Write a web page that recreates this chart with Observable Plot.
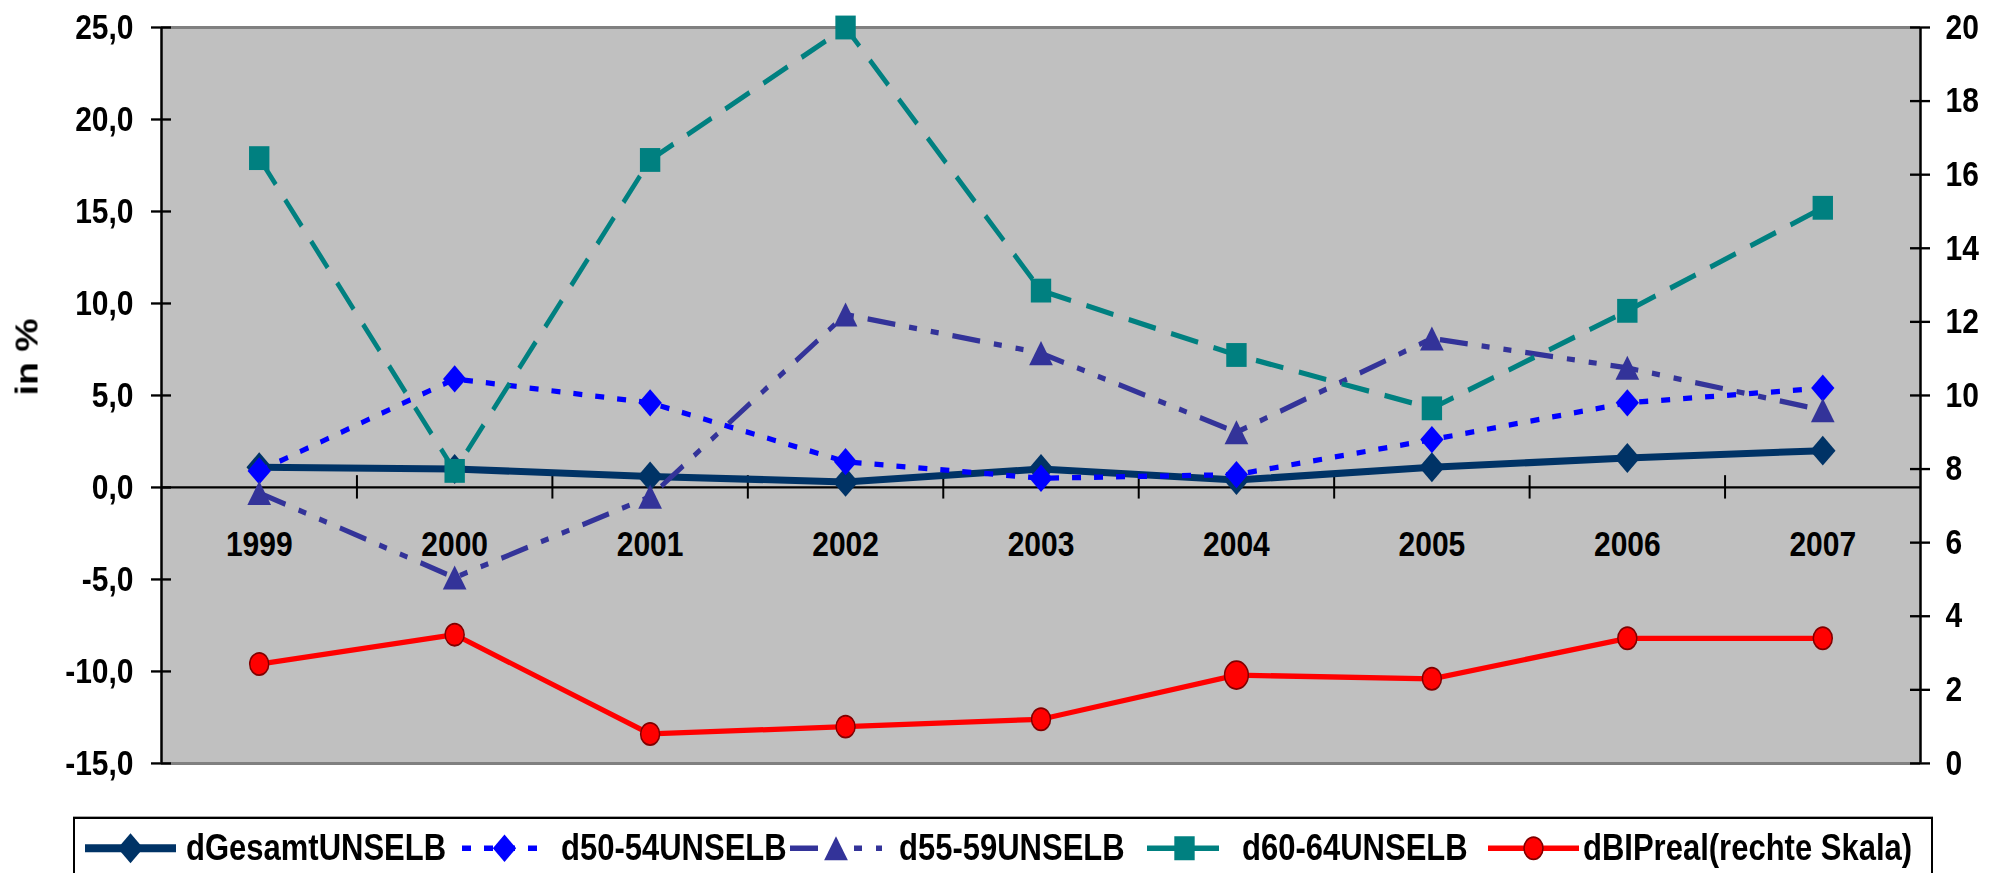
<!DOCTYPE html>
<html>
<head>
<meta charset="utf-8">
<script src="https://cdn.jsdelivr.net/npm/d3@7"></script>
<script src="https://cdn.jsdelivr.net/npm/@observablehq/plot@0.6"></script>
<style>
  html, body { margin: 0; padding: 0; background: #fff; }
  body { width: 2000px; height: 873px; overflow: hidden; font-family: "Liberation Sans", Arial, sans-serif; font-weight: bold; }
  #wrap { position: relative; width: 2000px; height: 746px; transform: scaleY(1.17); transform-origin: 0 0; }
  #chart svg { display: block; }
  #legend { position: absolute; left: 73px; top: 698px; width: 1860px; height: 64px; box-sizing: border-box; border: 2px solid #000; background: #fff; }
  .sym { position: absolute; top: 4px; }
  .lab { position: absolute; top: 0; height: 50px; line-height: 50px; font-size: 31px; font-weight: bold; color: #000; white-space: nowrap; }
</style>
</head>
<body>
<div id="wrap">
  <div id="chart"></div>
  <div id="legend"></div>
</div>
<script>
// ---- data ----
const years = ["1999", "2000", "2001", "2002", "2003", "2004", "2005", "2006", "2007"];
const dGesamtUNSELB = [1.1, 1.0, 0.6, 0.3, 1.0, 0.4, 1.1, 1.6, 2.0];
const d5054UNSELB   = [0.9, 5.9, 4.6, 1.4, 0.5, 0.7, 2.6, 4.6, 5.4];
const d5559UNSELB   = [-0.3, -4.9, -0.5, 9.4, 7.3, 3.0, 8.1, 6.5, 4.2];
const d6064UNSELB   = [17.9, 0.9, 17.8, 25.0, 10.7, 7.2, 4.3, 9.6, 15.2];
const dBIPreal      = [2.7, 3.5, 0.8, 1.0, 1.2, 2.4, 2.3, 3.4, 3.4];
const seriesNames = ["dGesamtUNSELB", "d50-54UNSELB", "d55-59UNSELB", "d60-64UNSELB", "dBIPreal(rechte Skala)"];
const leftTicks = [-15, -10, -5, 0, 5, 10, 15, 20, 25];
const leftTickLabels = ["-15,0", "-10,0", "-5,0", "0,0", "5,0", "10,0", "15,0", "20,0", "25,0"];
const rightTicks = [0, 2, 4, 6, 8, 10, 12, 14, 16, 18, 20];
const rightTickLabels = ["0", "2", "4", "6", "8", "10", "12", "14", "16", "18", "20"];
const yLabel = "in %";
const highlightYear = "2004";

// ---- scales helpers ----
const leftDomain = [leftTicks[0], leftTicks[leftTicks.length - 1]];
const rightDomain = [rightTicks[0], rightTicks[rightTicks.length - 1]];
const toLeft = v => leftDomain[0] + (v - rightDomain[0]) * (leftDomain[1] - leftDomain[0]) / (rightDomain[1] - rightDomain[0]);
const xMin = -0.5, xMax = years.length - 0.5;
const boundaries = years.slice(1).map((_, i) => i + 0.5);

// ---- styles ----
const styles = [
  {color: "#003366", width: 6,   dash: null,                 symbol: d3.symbolDiamond2, r: 11.5, dy: 0},
  {color: "#0000ff", width: 4.5, dash: "9,13",               symbol: d3.symbolDiamond2, r: 10.5, dy: 0},
  {color: "#333399", width: 4.5, dash: "28,14,8,14,8,14",    symbol: d3.symbolTriangle, r: 8.8,  dy: 3.4},
  {color: "#008080", width: 4.5, dash: "28,16",              symbol: d3.symbolSquare,   r: 11.5, dy: 0},
  {color: "#ff0000", width: 4.5, dash: null,                 symbol: d3.symbolCircle,   r: 9.5,  dy: 0, stroke: "#800000"}
];
const seriesValues = [dGesamtUNSELB, d5054UNSELB, d5559UNSELB, d6064UNSELB, dBIPreal];
const onRight = [false, false, false, false, true];

const seriesMarks = [];
seriesValues.forEach((vals, s) => {
  const st = styles[s];
  const rows = vals.map((v, i) => ({i, year: years[i], v, y: onRight[s] ? toLeft(v) : v}));
  seriesMarks.push(Plot.line(rows, {
    x: "i", y: "y", stroke: st.color, strokeWidth: st.width,
    strokeDasharray: st.dash || undefined, strokeLinecap: st.dash ? "butt" : "round", strokeLinejoin: "round"
  }));
  if (onRight[s]) {
    seriesMarks.push(Plot.dot(rows.filter(d => d.year !== highlightYear), {
      x: "i", y: "y", symbol: st.symbol, r: st.r, fill: st.color, stroke: st.stroke, strokeWidth: 1.5
    }));
    seriesMarks.push(Plot.dot(rows.filter(d => d.year === highlightYear), {
      x: "i", y: "y", symbol: st.symbol, r: st.r * 1.25, fill: st.color, stroke: st.stroke, strokeWidth: 1.5
    }));
  } else {
    seriesMarks.push(Plot.dot(rows, {
      x: "i", y: "y", symbol: st.symbol, r: st.r, fill: st.color, stroke: "none", dy: st.dy
    }));
  }
});

const chart = Plot.plot({
  width: 2000,
  height: 690,
  marginTop: 23,
  marginBottom: 38,
  marginLeft: 161,
  marginRight: 80,
  x: {domain: [xMin, xMax], axis: null},
  y: {domain: leftDomain, axis: null},
  style: {fontFamily: "'Liberation Sans', Arial, sans-serif", fontWeight: "bold", fontSize: "30px", color: "#000", background: "transparent", overflow: "visible"},
  marks: [
    Plot.frame({fill: "#c0c0c0", stroke: "none"}),
    Plot.ruleY(leftDomain, {y: d => d, stroke: "#808080", strokeWidth: 2.5}),
    Plot.ruleY([0], {stroke: "#000", strokeWidth: 2}),
    Plot.ruleX(boundaries, {x: d => d, y1: 0, y2: 0, insetTop: -10, insetBottom: -10, stroke: "#000", strokeWidth: 2}),
    Plot.text(years, {x: (d, i) => i, y: 0, text: d => d, dy: 49, fontSize: 30, fill: "#000"}),
    ...seriesMarks,
    Plot.ruleX([xMin], {stroke: "#000", strokeWidth: 2.5}),
    Plot.ruleX([xMax], {stroke: "#000", strokeWidth: 2.5}),
    Plot.ruleY(leftTicks, {y: d => d, x1: xMin, x2: xMin, insetLeft: -10, insetRight: -10, stroke: "#000", strokeWidth: 2}),
    Plot.ruleY(rightTicks, {y: d => toLeft(d), x1: xMax, x2: xMax, insetLeft: -10, insetRight: -10, stroke: "#000", strokeWidth: 2}),
    Plot.text(leftTicks, {x: xMin, y: d => d, text: (d, i) => leftTickLabels[i], textAnchor: "end", dx: -28, fontSize: 30, fill: "#000"}),
    Plot.text(rightTicks, {x: xMax, y: d => toLeft(d), text: (d, i) => rightTickLabels[i], textAnchor: "start", dx: 25, fontSize: 30, fill: "#000"}),
    Plot.text([yLabel], {text: d => d, frameAnchor: "left", rotate: -90, dx: -134, fontSize: 32, fill: "#000"})
  ]
});
document.getElementById("chart").appendChild(chart);

// ---- legend ----
const legendLayout = [
  {sx: 10, sw: 91, tx: 111},
  {sx: 387, sw: 85, tx: 486},
  {sx: 715, sw: 92, tx: 824},
  {sx: 1072, sw: 75, tx: 1167},
  {sx: 1413, sw: 91, tx: 1508}
];
const legend = d3.select("#legend");
seriesNames.forEach((name, s) => {
  const st = styles[s], lay = legendLayout[s];
  const svg = legend.append("svg").attr("class", "sym")
    .style("left", lay.sx + "px").attr("width", lay.sw).attr("height", 42);
  svg.append("line").attr("x1", 0).attr("x2", lay.sw).attr("y1", 21).attr("y2", 21)
    .attr("stroke", st.color).attr("stroke-width", s === 0 ? 7 : st.width)
    .attr("stroke-dasharray", st.dash || null);
  svg.append("path")
    .attr("d", d3.symbol(st.symbol, Math.PI * st.r * st.r)())
    .attr("transform", `translate(${lay.sw / 2},${21 + st.dy})`)
    .attr("fill", st.color)
    .attr("stroke", st.stroke || "none").attr("stroke-width", 1.5);
  legend.append("div").attr("class", "lab").style("left", lay.tx + "px").text(name);
});
</script>
</body>
</html>
